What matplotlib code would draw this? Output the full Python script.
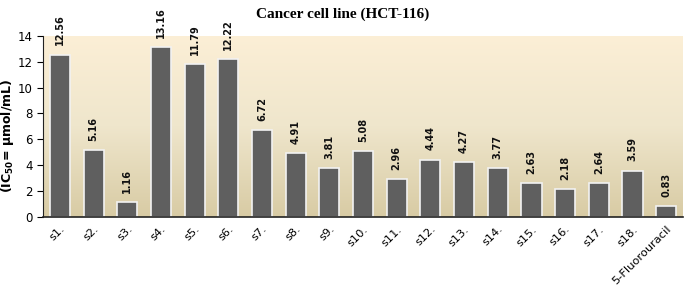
import matplotlib
matplotlib.use("Agg")
import matplotlib.pyplot as plt
import numpy as np
from matplotlib.colors import LinearSegmentedColormap

categories = ["s1.", "s2.", "s3.", "s4.", "s5.", "s6.", "s7.", "s8.", "s9.", "s10.",
              "s11.", "s12.", "s13.", "s14.", "s15.", "s16.", "s17.", "s18.", "5-Fluorouracil"]
values = [12.56, 5.16, 1.16, 13.16, 11.79, 12.22, 6.72, 4.91, 3.81, 5.08,
          2.96, 4.44, 4.27, 3.77, 2.63, 2.18, 2.64, 3.59, 0.83]
yticks = [0, 2, 4, 6, 8, 10, 12, 14]

fig = plt.figure(figsize=(6.85, 2.87), dpi=100)
ax = fig.add_axes([0.063, 0.244, 0.934, 0.631])

x = np.arange(len(categories))
ax.set_xlim(-0.5, len(categories) - 0.5)
ax.set_ylim(0, 14)

cmap = LinearSegmentedColormap.from_list("bg", ["#d8cba4", "#efe6cc", "#fcefd6"])
grad = np.linspace(0, 1, 256).reshape(-1, 1)
ax.imshow(grad, cmap=cmap, origin="lower", aspect="auto",
          extent=[-0.5, len(categories) - 0.5, 0, 14], zorder=0)

ax.bar(x, values, width=0.6, color="#5f5f5f", edgecolor="#f2f2f2", linewidth=1.2, zorder=2)

for xi, v in zip(x, values):
    ax.text(xi, v + 0.7, f"{v:.2f}", rotation=90, ha="center", va="bottom",
            fontsize=7, fontweight="bold", color="#111111", zorder=3)

ax.set_xticks(x)
ax.set_xticklabels(categories, rotation=45, ha="right", rotation_mode="anchor", fontsize=8.2)
ax.set_yticks(yticks)
ax.tick_params(axis="y", labelsize=8.5, length=4)
ax.tick_params(axis="x", length=0, pad=5)

for s in ["top", "right"]:
    ax.spines[s].set_visible(False)
ax.spines["left"].set_color("#222222")
ax.spines["bottom"].set_color("#222222")
ax.spines["bottom"].set_linewidth(1.2)

ax.set_ylabel("(IC$_{\\mathbf{50}}$= µmol/mL)", fontsize=9, fontweight="bold")
ax.yaxis.set_label_coords(-0.042, 0.45)

fig.text(0.5, 0.975, "Cancer cell line (HCT-116)", ha="center", va="top",
         fontsize=11, fontweight="bold", family="Liberation Serif")

fig.savefig("out.png", dpi=100)
